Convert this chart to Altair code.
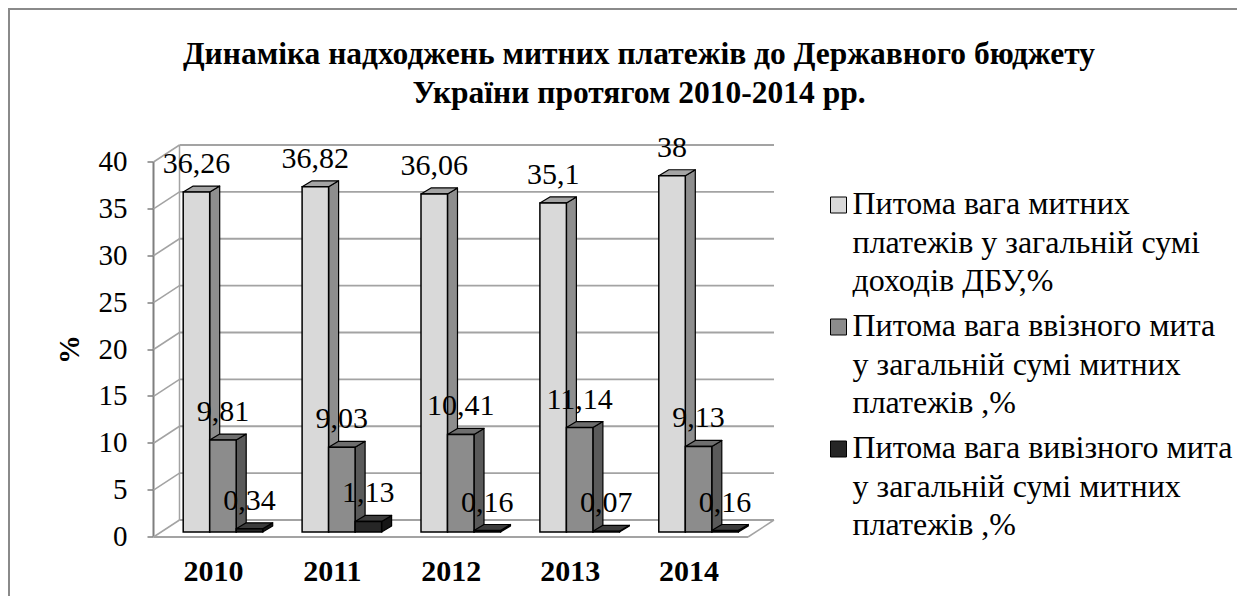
import json
import altair as alt
import pandas as pd

# ---------------- data ----------------
YEARS = ["2010", "2011", "2012", "2013", "2014"]
LEGEND_LINES = [
    ["Питома вага митних", "платежів  у загальній  сумі", "доходів ДБУ,%"],
    ["Питома вага ввізного мита", "у загальній  сумі митних", "платежів  ,%"],
    ["Питома вага вивізного мита", "у загальній  сумі митних", "платежів  ,%"],
]
SERIES = [" ".join(lines) for lines in LEGEND_LINES]
CUSTOMS_SHARE = [36.26, 36.82, 36.06, 35.1, 38]
IMPORT_SHARE = [9.81, 9.03, 10.41, 11.14, 9.13]
EXPORT_SHARE = [0.34, 1.13, 0.16, 0.07, 0.16]
Y_TICKS = [0, 5, 10, 15, 20, 25, 30, 35, 40]
TITLE_LINES = ["Динаміка надходжень митних платежів до Державного бюджету",
               "України протягом 2010-2014 рр."]
Y_TITLE = "%"

# ---------------- layout / style ----------------
SERIF = "Liberation Serif"
PLOT_W, PLOT_H = 594.5, 375
PAD = {"left": 155.5, "top": 149, "right": 479, "bottom": 64}
FRONT_DX, FRONT_DY = -10, 5      # front (axis) plane relative to bar plane, px
BACK_DX, BACK_DY = 16, -12       # back wall relative to bar plane, px
BAR_PX = 26.5
FACE_DX, FACE_DY = 10, 6         # bar depth, px

FRONT_COLORS = ["#d9d9d9", "#8c8c8c", "#262626"]
TOP_COLORS = ["#a4a4a4", "#6e6e6e", "#3c3c3c"]
SIDE_COLORS = ["#8e8e8e", "#5a5a5a", "#161616"]
GRID_COLOR = "#a3a3a3"
AXIS_COLOR = "#7f7f7f"

X_MIN, X_MAX = -0.5, len(YEARS) - 0.5
Y_MIN, Y_MAX = 0, 40
UX = (X_MAX - X_MIN) / PLOT_W
UY = (Y_MAX - Y_MIN) / PLOT_H
BW = BAR_PX * UX
DXU = FACE_DX * UX
DYU = FACE_DY * UY

rows = []
for s, vals in enumerate([CUSTOMS_SHARE, IMPORT_SHARE, EXPORT_SHARE]):
    for i, (yr, v) in enumerate(zip(YEARS, vals)):
        rows.append({"year": yr, "i": i, "s": s, "series": SERIES[s], "value": v})
bars_df = pd.DataFrame(rows)
ticks_df = pd.DataFrame({"t": Y_TICKS})
one = pd.DataFrame({"k": [0]})

XS = alt.Scale(domain=[X_MIN, X_MAX], nice=False, zero=False)
YS = alt.Scale(domain=[Y_MIN, Y_MAX], nice=False)

X_AXIS = alt.Axis(values=list(range(len(YEARS))),
                  labelExpr=json.dumps(YEARS) + "[datum.value]",
                  domain=False, ticks=False, grid=False,
                  labelFont=SERIF, labelFontSize=30, labelFontWeight="bold",
                  labelColor="black", labelPadding=24, labelOffset=FRONT_DX,
                  title=None)
Y_AXIS = alt.Axis(values=Y_TICKS, grid=False, offset=FRONT_DY - FRONT_DX,
                  translate=FRONT_DY, domainColor=AXIS_COLOR, domainWidth=2,
                  tickColor=AXIS_COLOR, tickWidth=1.5, tickSize=6,
                  labelFont=SERIF, labelFontSize=29, labelColor="black",
                  labelPadding=20, title=Y_TITLE, titleFont=SERIF,
                  titleFontSize=29, titleFontWeight="bold", titleColor="black",
                  titlePadding=14)


def xq(field):
    return alt.X(field, type="quantitative", scale=XS, axis=X_AXIS, stack=None)


def yq(field):
    return alt.Y(field, type="quantitative", scale=YS, axis=Y_AXIS, stack=None)


def xd(v):
    return alt.XDatum(v, type="quantitative", scale=XS, axis=X_AXIS)


def yd(v):
    return alt.YDatum(v, type="quantitative", scale=YS, axis=Y_AXIS)


def color(colors):
    return alt.Color("series:N", scale=alt.Scale(domain=SERIES, range=colors), legend=None)


base_calc = dict(
    c=f"datum.i + (datum.s - 1) * {BW}",
)

layers = []

# chart border (top and left edges)
layers.append(alt.Chart(one).mark_rule(color="#8a8a8a", strokeWidth=2).encode(
    x=alt.value(-PAD["left"]), x2=alt.value(PLOT_W + PAD["right"]), y=alt.value(-PAD["top"] + 1)))
layers.append(alt.Chart(one).mark_rule(color="#8a8a8a", strokeWidth=2).encode(
    x=alt.value(-PAD["left"] + 1), y=alt.value(-PAD["top"]), y2=alt.value(PLOT_H + PAD["bottom"])))

# back wall gridlines
layers.append(alt.Chart(ticks_df).mark_rule(
    color=GRID_COLOR, strokeWidth=1.8, xOffset=BACK_DX, x2Offset=BACK_DX, yOffset=BACK_DY
).encode(x=xd(X_MIN), x2=alt.X2Datum(X_MAX), y=yq("t")))
# side wall diagonals
layers.append(alt.Chart(ticks_df).mark_rule(
    color=GRID_COLOR, strokeWidth=1.5, xOffset=FRONT_DX, x2Offset=BACK_DX,
    yOffset=FRONT_DY, y2Offset=BACK_DY
).encode(x=xd(X_MIN), x2=alt.X2Datum(X_MIN), y=yq("t"), y2="t:Q"))
# back wall left edge
layers.append(alt.Chart(one).mark_rule(
    color=GRID_COLOR, strokeWidth=1.5, xOffset=BACK_DX, yOffset=BACK_DY, y2Offset=BACK_DY
).encode(x=xd(X_MIN), y=yd(Y_MIN), y2=alt.Y2Datum(Y_MAX)))
# floor front edge and right edge
layers.append(alt.Chart(one).mark_rule(
    color=GRID_COLOR, strokeWidth=1.8, xOffset=FRONT_DX, x2Offset=FRONT_DX, yOffset=FRONT_DY
).encode(x=xd(X_MIN), x2=alt.X2Datum(X_MAX), y=yd(Y_MIN)))
layers.append(alt.Chart(one).mark_rule(
    color=GRID_COLOR, strokeWidth=1.5, xOffset=FRONT_DX, x2Offset=BACK_DX,
    yOffset=FRONT_DY, y2Offset=BACK_DY
).encode(x=xd(X_MAX), x2=alt.X2Datum(X_MAX), y=yd(Y_MIN), y2=alt.Y2Datum(Y_MIN)))

# side faces
sides = alt.Chart(bars_df).transform_calculate(**base_calc).transform_calculate(
    xr=f"datum.c + {BW / 2}", k="[0, 1]"
).transform_flatten(["k"]).transform_calculate(
    px=f"datum.xr + datum.k * {DXU}",
    pyb=f"datum.k * {DYU}",
    pyt=f"datum.value + datum.k * {DYU}",
).mark_area(orient="vertical", stroke="black", strokeWidth=1.2, opacity=1, strokeJoin="round").encode(
    x=xq("px"), y=yq("pyt"), y2="pyb:Q", detail=["i:N", "s:N"], color=color(SIDE_COLORS))
layers.append(sides)

# top faces
tops = alt.Chart(bars_df).transform_calculate(**base_calc).transform_calculate(
    xl=f"datum.c - {BW / 2}", xr=f"datum.c + {BW / 2}", k="[0, 1]"
).transform_flatten(["k"]).transform_calculate(
    py=f"datum.value + datum.k * {DYU}",
    px0=f"datum.xl + datum.k * {DXU}",
    px1=f"datum.xr + datum.k * {DXU}",
).mark_area(orient="horizontal", stroke="black", strokeWidth=1.2, opacity=1, strokeJoin="round").encode(
    y=yq("py"), x=xq("px0"), x2="px1:Q", detail=["i:N", "s:N"], color=color(TOP_COLORS))
layers.append(tops)

# front faces
fronts = alt.Chart(bars_df).transform_calculate(**base_calc).transform_calculate(
    xl=f"datum.c - {BW / 2}", xr=f"datum.c + {BW / 2}"
).mark_rect(stroke="black", strokeWidth=1.5, opacity=1).encode(
    x=xq("xl"), x2="xr:Q", y=yq("value"), y2=alt.Y2Datum(0), color=color(FRONT_COLORS))
layers.append(fronts)

# value labels
labels = alt.Chart(bars_df).transform_calculate(**base_calc).transform_calculate(
    label="replace(toString(datum.value), '.', ',')"
).mark_text(font=SERIF, fontSize=30, color="black", baseline="middle", dy=-28).encode(
    x=xq("c"), y=yq("value"), text="label:N")
layers.append(labels)

# legend
LEG_SQ_X, LEG_SQ_Y = 675, 48
LEG_TX, LEG_TY = 689, 57.3
LEG_STEP = 122
for idx, lines in enumerate(LEGEND_LINES):
    d = pd.DataFrame({"series": [SERIES[idx]]})
    layers.append(alt.Chart(d).mark_square(size=256, opacity=1, stroke="black", strokeWidth=1).encode(
        x=alt.value(LEG_SQ_X), y=alt.value(LEG_SQ_Y + idx * LEG_STEP), color=color(FRONT_COLORS)))
    layers.append(alt.Chart(d).mark_text(align="left", baseline="alphabetic", font=SERIF,
                                         fontSize=32, lineHeight=38.3, color="black").encode(
        x=alt.value(LEG_TX), y=alt.value(LEG_TY + idx * LEG_STEP), text=alt.value(lines)))

# title
layers.append(alt.Chart(one).mark_text(align="center", baseline="alphabetic", font=SERIF,
                                       fontSize=31.5, fontWeight="bold", lineHeight=39,
                                       color="black").encode(
    x=alt.value(639 - 8 - PAD["left"]), y=alt.value(64 - 8 - PAD["top"]), text=alt.value(TITLE_LINES)))

chart = alt.layer(*layers).resolve_scale(color="independent").properties(
    width=PLOT_W, height=PLOT_H, padding=PAD,
    autosize=alt.AutoSizeParams(type="none"),
    background="white",
).configure_view(stroke=None)

chart.save("out.html", embed_options={"renderer": "svg", "actions": False})
